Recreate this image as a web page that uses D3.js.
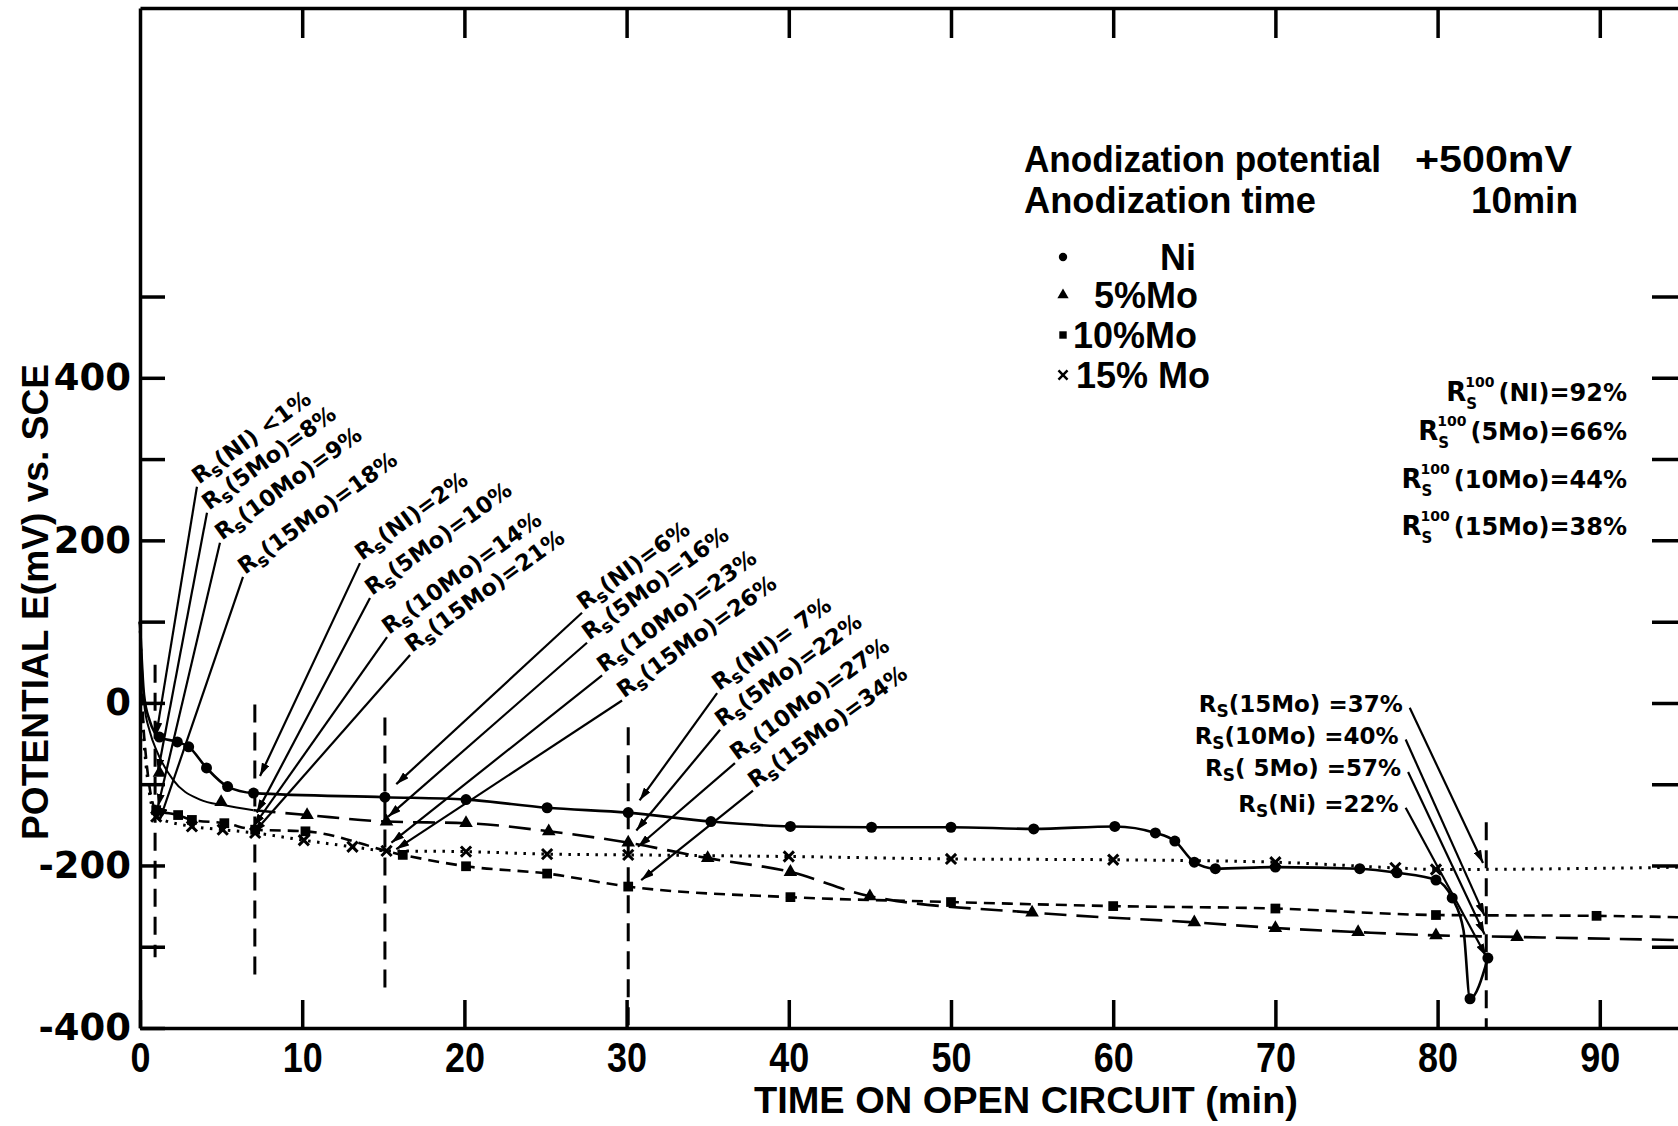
<!DOCTYPE html>
<html>
<head>
<meta charset="utf-8">
<script src="https://cdn.jsdelivr.net/npm/d3@7"></script>
<style>
body{margin:0;background:#fff}
svg text{fill:#000}
.axis path,.axis line{stroke:#000;stroke-width:3.5}
</style>
</head>
<body>
<svg id="chart" width="1678" height="1126"></svg>
<script>
// values: [time (min), potential (mV), flag]
// flag 0 = curve point only, 1 = curve point with marker, 2 = marker only
var ni = [[0,100,0],[0.25,10,0],[0.6,-22,0],[1.2,-42,1],[2.3,-48,1],[3,-54,1],[4.1,-80,1],[5.4,-103,1],[7,-111,1],
  [15.1,-116,1],[20.1,-119,1],[25.1,-129,1],[30.1,-135,1],[35.2,-146,1],[40.1,-152,1],[45.1,-153,1],
  [50,-153,1],[55.1,-155,1],[60.1,-152,1],[62.6,-160,1],[63.8,-170,1],[65,-196,1],[66.3,-204,1],
  [70,-202,1],[75.2,-204,1],[77.5,-209,1],[79.9,-218,1],[80.9,-240,1],[81.6,-280,0],[82.0,-364,1],[83.1,-314,1]];
var mo5Early = [[0,100,0],[0.25,0,0],[0.6,-35,0],[1.05,-60,0],[2.05,-95,0],[3.7,-119,0],[5.2,-126,0],[7,-132,0],
  [1.2,-86,2],[5,-122,2]];
var mo5 = [[7,-132,0],[10.3,-138,1],[15.2,-146,1],[20.1,-148,1],[25.2,-158,1],[30.1,-172,1],[35,-191,1],
  [40.1,-208,1],[45,-238,1],[55,-258,1],[65,-270,1],[70,-277,1],[75.1,-282,1],[79.9,-286,1],[84.9,-288,1],[95.5,-292,0]];
var mo10 = [[0,100,0],[0.25,-40,0],[1.0,-132,1],[2.35,-138,1],[3.2,-144,1],[5.2,-148,1],[7.1,-156,1],[10.2,-158,1],
  [16.2,-187,1],[20.1,-201,1],[25.1,-210,1],[30.1,-226,1],[40.1,-239,1],[50,-245,1],[60,-250,1],[70,-253,1],
  [79.9,-261,1],[89.8,-262,1],[95.5,-264,0]];
var mo15 = [[0,100,0],[0.25,-50,0],[1.0,-140,1],[3.2,-152,1],[5.1,-156,1],[7.1,-160,1],[10.1,-169,1],[13.1,-177,1],
  [15.2,-182,1],[20.1,-183,1],[25.1,-186,1],[30.1,-187,1],[40,-189,1],[50,-192,1],[60,-193,1],[70,-196,1],
  [77.4,-203,1],[79.9,-205,1],[95.5,-202,0]];

var xTicks = d3.range(0, 91, 10);
var yTicks = d3.range(-400, 501, 100);
var yLabels = [400, 200, 0, -200, -400];

// vertical dashed markers (time, top, bottom)
var cutT = [0.93, 7.08, 15.1, 30.1, 83.0];
var cutTop = [47, -2, -18, -30, -147];
var cutBottom = [-313, -344, -357, -400, -400];

// Rs annotations at the four cuts
var groupLabels = [
  ['(NI) <1%', '(5Mo)=8%', '(10Mo)=9%', '(15Mo)=18%'],
  ['(NI)=2%', '(5Mo)=10%', '(10Mo)=14%', '(15Mo)=21%'],
  ['(NI)=6%', '(5Mo)=16%', '(10Mo)=23%', '(15Mo)=26%'],
  ['(NI)= 7%', '(5Mo)=22%', '(10Mo)=27%', '(15Mo)=34%']
];
var groupLabelAt = [
  [[3.51,266],[4.13,234],[4.93,197],[6.35,155]],
  [[13.56,172],[14.18,129],[15.23,81],[16.65,59]],
  [[27.25,111],[27.56,74],[28.49,34],[29.72,3]],
  [[35.58,12],[35.76,-33],[36.68,-74],[37.79,-108]]
];
var groupArrowTo = [
  [[1.0,-40],[1.1,-85],[1.1,-128],[1.2,-145]],
  [[7.4,-90],[7.2,-135],[7.0,-152],[7.0,-160]],
  [[15.8,-100],[15.3,-140],[15.5,-172],[15.8,-180]],
  [[30.8,-120],[30.6,-157],[30.7,-177],[30.9,-218]]
];
var rightLabels = ['(15Mo) =37%', '(10Mo) =40%', '( 5Mo) =57%', '(Ni) =22%'];
var rightLabelAt = [[77.85,-11],[77.6,-50],[77.75,-90],[77.6,-134]];
var rightArrowTo = [[82.8,-197],[82.9,-262],[82.9,-285],[83.0,-312]];

var rs100Labels = ['(NI)=92%', '(5Mo)=66%', '(10Mo)=44%', '(15Mo)=38%'];
var legendNames = ['Ni', '5%Mo', '10%Mo', '15% Mo'];

var svg = d3.select('#chart');
var x = d3.scaleLinear().domain([0, 95.5]).range([140, 1689]);
var y = d3.scaleLinear().domain([-400, 855]).range([1028, 8]);
var FONT = '"Liberation Sans", Arial, sans-serif';
var FONT2 = '"DejaVu Sans", sans-serif';

// axes
var gl = svg.append('g').attr('class','axis').attr('transform','translate('+x(0)+',0)')
  .call(d3.axisLeft(y).tickValues(yTicks).tickSizeInner(-25).tickSizeOuter(0).tickPadding(9)
    .tickFormat(function(d){ return yLabels.indexOf(d) >= 0 ? d : ''; }));
gl.selectAll('text').attr('font-family', FONT2).attr('font-weight','bold').attr('font-size', 37);
gl.selectAll('line').attr('stroke-width', 3);

var gb = svg.append('g').attr('class','axis').attr('transform','translate(0,'+y(-400)+')')
  .call(d3.axisBottom(x).tickValues(xTicks).tickSizeInner(-28).tickSizeOuter(0).tickPadding(13));
gb.selectAll('text').attr('font-family', FONT).attr('font-weight','bold').attr('font-size', 43)
  .attr('textLength', function(d){ return String(d).length * 20; }).attr('lengthAdjust','spacingAndGlyphs');
gb.selectAll('line').attr('stroke-width', 3);

var gt = svg.append('g').attr('class','axis').attr('transform','translate(0,'+y(855)+')')
  .call(d3.axisTop(x).tickValues(xTicks.slice(1)).tickSizeInner(-30).tickSizeOuter(0).tickFormat(''));
gt.selectAll('line').attr('stroke-width', 3);

var gr = svg.append('g').attr('class','axis').attr('transform','translate('+x(95.5)+',0)')
  .call(d3.axisRight(y).tickValues(d3.range(-300, 501, 100)).tickSizeInner(-37).tickSizeOuter(0).tickFormat(''));
gr.selectAll('line').attr('stroke-width', 3);

// axis titles
svg.append('text').attr('x', 1026).attr('y', 1113).attr('text-anchor','middle')
  .attr('font-family', FONT).attr('font-weight','bold').attr('font-size', 36)
  .attr('textLength', 544).attr('lengthAdjust','spacingAndGlyphs')
  .text('TIME  ON  OPEN  CIRCUIT  (min)');
svg.append('text').attr('transform','translate(48,602) rotate(-90)').attr('text-anchor','middle')
  .attr('font-family', FONT).attr('font-weight','bold').attr('font-size', 37)
  .attr('textLength', 476).attr('lengthAdjust','spacingAndGlyphs')
  .text('POTENTIAL  E(mV) vs. SCE');

// vertical dashed lines
svg.selectAll('.cut').data(cutT).enter().append('line').attr('class','cut')
  .attr('x1', function(d){ return x(d); }).attr('x2', function(d){ return x(d); })
  .attr('y1', function(d,i){ return y(cutTop[i]); }).attr('y2', function(d,i){ return y(cutBottom[i]); })
  .attr('stroke','#000').attr('stroke-width',3).attr('stroke-dasharray','18,10');

// series
var line = d3.line().x(function(d){ return x(d[0]); }).y(function(d){ return y(d[1]); }).curve(d3.curveMonotoneX);

function drawSeries(data, dash, width, sym, size){
  svg.append('path').datum(data.filter(function(d){ return d[2] !== 2; }))
    .attr('d', line).attr('fill','none').attr('stroke','#000')
    .attr('stroke-width', width).attr('stroke-dasharray', dash);
  var isX = sym === d3.symbolX;
  svg.append('g').selectAll('path').data(data.filter(function(d){ return d[2] > 0; })).enter().append('path')
    .attr('transform', function(d){ return 'translate('+x(d[0])+','+y(d[1])+')'; })
    .attr('d', d3.symbol().type(sym).size(size))
    .attr('fill', isX ? 'none' : '#000')
    .attr('stroke', isX ? '#000' : 'none').attr('stroke-width', 3);
}
drawSeries(mo15, '2.5,6.5', 3, d3.symbolX, 70);
drawSeries(mo10, '11,7', 2.6, d3.symbolSquare, 95);
drawSeries(mo5Early, null, 2, d3.symbolTriangle, 80);
drawSeries(mo5, '22,10', 2.6, d3.symbolTriangle, 80);
drawSeries(ni, null, 2.6, d3.symbolCircle, 95);

// arrow head
svg.append('defs').append('marker').attr('id','arrow')
  .attr('viewBox','0 0 10 10').attr('refX',10).attr('refY',5)
  .attr('markerWidth',13).attr('markerHeight',8).attr('markerUnits','userSpaceOnUse')
  .attr('preserveAspectRatio','none').attr('orient','auto')
  .append('path').attr('d','M0,0L10,5L0,10Z').attr('fill','#000');

function leader(x1, y1, x2, y2){
  svg.append('line').attr('x1',x1).attr('y1',y1).attr('x2',x2).attr('y2',y2)
    .attr('stroke','#000').attr('stroke-width',2.2).attr('marker-end','url(#arrow)');
}

function rsText(sel, rest, size, subSize, cap){
  sel.append('tspan').text('R');
  sel.append('tspan').attr('font-size', subSize).attr('dy', size*0.22).text(cap ? 'S' : 's');
  sel.append('tspan').attr('dy', -size*0.22).text(rest);
}

// rotated Rs groups
groupLabels.forEach(function(labels, g){
  labels.forEach(function(lab, i){
    var ax = x(groupLabelAt[g][i][0]), ay = y(groupLabelAt[g][i][1]);
    var to = groupArrowTo[g][i];
    leader(ax, ay, x(to[0]), y(to[1]));
    var t = svg.append('text').attr('transform','translate('+(ax+2)+','+(ay-2)+') rotate(-36)')
      .attr('font-family', FONT2).attr('font-weight','bold').attr('font-size', 22.5);
    rsText(t, lab, 22.5, 18, false);
  });
});

// right Rs group
rightLabels.forEach(function(lab, i){
  var ax = x(rightLabelAt[i][0]), ay = y(rightLabelAt[i][1]);
  var t = svg.append('text').attr('x', ax).attr('y', ay).attr('text-anchor','end')
    .attr('font-family', FONT2).attr('font-weight','bold').attr('font-size', 23);
  rsText(t, lab, 23, 17, true);
  leader(ax + 7, ay - 4, x(rightArrowTo[i][0]), y(rightArrowTo[i][1]));
});

// Rs100 block
var rsY = [401, 440, 488, 535];
rs100Labels.forEach(function(lab, i){
  var t = svg.append('text').attr('x', 1627).attr('y', rsY[i]).attr('text-anchor','end')
    .attr('font-family', FONT2).attr('font-weight','bold').attr('font-size', 24).text(lab);
  var x0 = 1627 - t.node().getComputedTextLength() - 4;
  var sup = svg.append('text').attr('x', x0).attr('y', rsY[i] - 14).attr('text-anchor','end')
    .attr('font-family', FONT2).attr('font-weight','bold').attr('font-size', 14).text('100');
  var w = sup.node().getComputedTextLength();
  svg.append('text').attr('x', x0 - w + 1).attr('y', rsY[i] + 8)
    .attr('font-family', FONT2).attr('font-weight','bold').attr('font-size', 15).text('S');
  svg.append('text').attr('x', x0 - w + 1).attr('y', rsY[i]).attr('text-anchor','end')
    .attr('font-family', FONT2).attr('font-weight','bold').attr('font-size', 26).text('R');
});

// legend
var hdr = svg.append('g').attr('font-family', FONT).attr('font-weight','bold').attr('font-size', 36);
hdr.append('text').attr('x',1024).attr('y',172).attr('textLength',357).attr('lengthAdjust','spacingAndGlyphs').text('Anodization  potential');
hdr.append('text').attr('x',1415).attr('y',172).attr('textLength',157).attr('lengthAdjust','spacingAndGlyphs').text('+500mV');
hdr.append('text').attr('x',1024).attr('y',213).attr('textLength',292).attr('lengthAdjust','spacingAndGlyphs').text('Anodization  time');
hdr.append('text').attr('x',1471).attr('y',213).attr('textLength',107).attr('lengthAdjust','spacingAndGlyphs').text('10min');

var legSyms = [d3.symbolCircle, d3.symbolTriangle, d3.symbolSquare, d3.symbolX];
var legY = [257, 295, 335, 375];
var legX = [1160, 1094, 1073, 1076];
legendNames.forEach(function(name, i){
  var isX = legSyms[i] === d3.symbolX;
  svg.append('path').attr('transform','translate(1063,'+legY[i]+')')
    .attr('d', d3.symbol().type(legSyms[i]).size(55))
    .attr('fill', isX ? 'none' : '#000').attr('stroke', isX ? '#000' : 'none').attr('stroke-width', 2.5);
  svg.append('text').attr('x', legX[i]).attr('y', legY[i] + 13)
    .attr('font-family', FONT).attr('font-weight','bold').attr('font-size', 36).text(name);
});
</script>
</body>
</html>
